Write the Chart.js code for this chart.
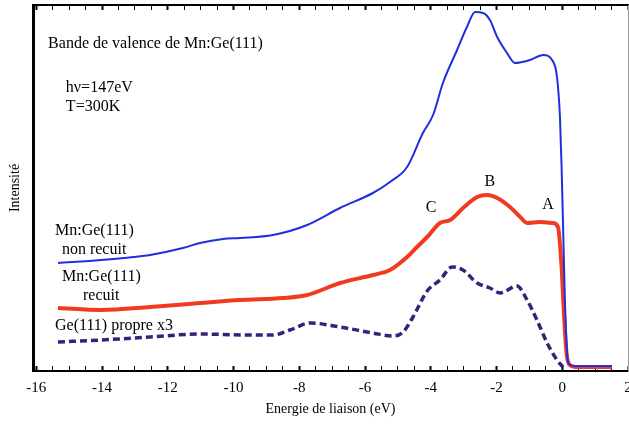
<!DOCTYPE html>
<html>
<head>
<meta charset="utf-8">
<script src="https://cdn.jsdelivr.net/npm/chart.js@4/dist/chart.umd.min.js"></script>
<style>
    body { margin: 0; background: #fff; overflow: hidden; }
    canvas { display: block; }
</style>
</head>
<body>
<canvas id="grafico" width="629" height="428"></canvas>
<script>
// energie de liaison (eV) et intensite
const bleuE = [-15.34, -14.03, -13.03, -12.54, -11.54, -11.02, -10.32, -9.80, -8.80, -7.76, -6.76, -5.76, -5.24, -4.72, -4.24, -3.93, -3.63, -3.20, -2.90, -2.65, -2.41, -2.20, -1.98, -1.68, -1.44, -0.98, -0.58, -0.31, -0.16, -0.07, -0.02, 0.03, 0.08, 0.18, 0.39, 1.51];
const bleuI = [108, 111, 114, 116, 123, 128, 132, 133, 136, 146, 163, 178, 189, 204, 238, 256, 288, 321, 344, 359, 358, 351, 334, 318, 308, 311, 316, 311, 294, 254, 204, 138, 71, 8, 5, 5];

const rougeE = [-15.34, -14.03, -12.54, -11.02, -9.80, -8.49, -7.76, -6.76, -5.76, -5.24, -4.72, -4.42, -4.11, -3.72, -3.41, -3.02, -2.59, -2.29, -1.98, -1.59, -1.28, -1.07, -0.68, -0.28, -0.13, -0.02, 0.03, 0.13, 0.23, 0.39, 1.51];
const rougeI = [63, 61, 64, 68, 71, 73, 76, 88, 96, 101, 114, 124, 134, 148, 151, 163, 174, 176, 173, 164, 154, 148, 149, 148, 144, 104, 71, 18, 6, 4, 4];

const violetE = [-15.34, -14.03, -12.54, -11.02, -9.59, -8.80, -8.28, -7.67, -6.76, -5.76, -5.15, -4.84, -4.54, -4.11, -3.72, -3.35, -3.02, -2.59, -2.20, -1.89, -1.38, -1.07, -0.77, -0.46, -0.16, 0.02];
const violetI = [29, 31, 34, 37, 36, 36, 41, 48, 44, 38, 35, 39, 54, 80, 91, 104, 101, 88, 83, 78, 85, 71, 51, 28, 11, 4];

const textes = ['Bande de valence de Mn:Ge(111)', 'h\u03bd=147eV', 'T=300K', 'Mn:Ge(111)', 'non recuit', 'Mn:Ge(111)', 'recuit', 'Ge(111) propre x3', 'C', 'B', 'A'];
const textesE = [-15.64, -15.10, -15.10, -15.43, -15.22, -15.22, -14.58, -15.43, -3.99, -2.20, -0.43];
const textesI = [327, 283, 264, 140, 121, 94, 75, 45, 163, 189, 166];
const textesAlign = ['left', 'left', 'left', 'left', 'left', 'left', 'left', 'left', 'center', 'center', 'center'];

const police = "'Liberation Serif', 'Times New Roman', serif";

function points(xs, ys) {
    return xs.map((x, i) => ({ x: x, y: ys[i] }));
}

const annotations = {
    id: 'annotations',
    afterDatasetsDraw(chart) {
        const ctx = chart.ctx;
        const sx = chart.scales.x;
        const sy = chart.scales.y;
        ctx.save();
        ctx.fillStyle = '#000';
        ctx.font = '16px ' + police;
        ctx.textBaseline = 'middle';
        textes.forEach((t, i) => {
            ctx.textAlign = textesAlign[i];
            ctx.fillText(t, sx.getPixelForValue(textesE[i]), sy.getPixelForValue(textesI[i]));
        });
        ctx.restore();
    }
};

function tickLargeur(c) {
    return c.tick && Math.abs(c.tick.value % 2) < 1e-6 ? 2 : 1;
}

new Chart(document.getElementById('grafico'), {
    type: 'line',
    data: {
        datasets: [
            {
                label: 'Mn:Ge(111) non recuit',
                data: points(bleuE, bleuI),
                borderColor: '#1f2fe0',
                borderWidth: 2,
                pointRadius: 0,
                cubicInterpolationMode: 'monotone'
            },
            {
                label: 'Mn:Ge(111) recuit',
                data: points(rougeE, rougeI),
                borderColor: '#f03a22',
                borderWidth: 4,
                pointRadius: 0,
                cubicInterpolationMode: 'monotone'
            },
            {
                label: 'Ge(111) propre x3',
                data: points(violetE, violetI),
                borderColor: '#3b1f7c',
                borderWidth: 3.5,
                borderDash: [7, 4],
                pointRadius: 0,
                cubicInterpolationMode: 'monotone'
            }
        ]
    },
    options: {
        responsive: false,
        animation: false,
        devicePixelRatio: 1,
        layout: { padding: { top: 0, right: 1, bottom: 0, left: 0 } },
        plugins: {
            legend: { display: false },
            tooltip: { enabled: false }
        },
        scales: {
            x: {
                type: 'linear',
                position: 'bottom',
                min: -16.1,
                max: 2,
                ticks: {
                    stepSize: 0.5,
                    includeBounds: false,
                    autoSkip: false,
                    maxRotation: 0,
                    padding: 13,
                    color: '#000',
                    font: { family: police, size: 15 },
                    callback: v => (Math.abs(v % 2) < 1e-6 ? String(v) : '')
                },
                grid: {
                    drawOnChartArea: false,
                    tickLength: -5,
                    tickColor: '#000',
                    tickWidth: tickLargeur
                },
                border: { color: '#000', width: 2 },
                title: {
                    display: true,
                    text: 'Energie de liaison (eV)',
                    color: '#000',
                    font: { family: police, size: 14 },
                    padding: { top: 0, bottom: 10 }
                },
                afterFit(s) { s.height = 57; s.paddingLeft = 0; s.paddingRight = 0; }
            },
            x2: {
                type: 'linear',
                position: 'top',
                min: -16.1,
                max: 2,
                ticks: { display: false, stepSize: 0.5, includeBounds: false, autoSkip: false },
                grid: {
                    drawOnChartArea: false,
                    tickLength: -5,
                    tickColor: '#000',
                    tickWidth: tickLargeur
                },
                border: { color: '#000', width: 2 },
                afterFit(s) { s.height = 5; s.paddingLeft = 0; s.paddingRight = 0; }
            },
            y: {
                type: 'linear',
                position: 'left',
                min: 0,
                max: 366,
                ticks: { display: false },
                grid: { display: false },
                border: { color: '#000', width: 3 },
                title: {
                    display: true,
                    text: 'Intensité',
                    color: '#000',
                    font: { family: police, size: 14 },
                    padding: { top: 7, bottom: 0 }
                },
                afterFit(s) { s.width = 33; }
            },
            y2: {
                type: 'linear',
                position: 'right',
                min: 0,
                max: 366,
                ticks: { display: false },
                grid: { display: false },
                border: { color: '#9a9a9a', width: 1 },
                afterFit(s) { s.width = 0; }
            }
        }
    },
    plugins: [annotations]
});
</script>
</body>
</html>
